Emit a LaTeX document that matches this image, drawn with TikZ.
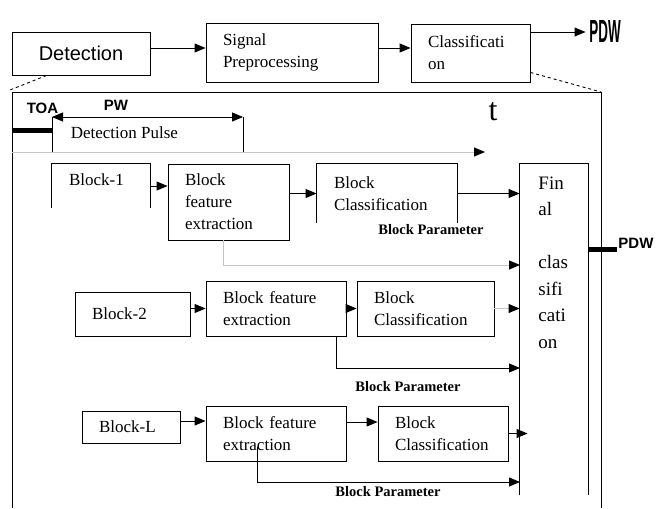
\documentclass[tikz,border=0pt]{standalone}
\usepackage{fontspec}
\setmainfont{Liberation Serif}
\setsansfont{Liberation Sans}
\usepackage{graphicx}
\usetikzlibrary{arrows.meta}

\begin{document}
\begin{tikzpicture}[x=1pt, y=-1pt, line width=0.9pt,
  box/.style={draw, inner xsep=17pt, inner ysep=0pt, align=left, font=\fontsize{17}{22}\selectfont},
  openbox/.style={inner xsep=17pt, inner ysep=0pt, align=left, font=\fontsize{17}{22}\selectfont},
  arr/.style={-{Triangle[length=11pt,width=9pt]}},
  garr/.style={draw=gray!45, -{Triangle[length=11pt,width=9pt,color=black]}},
  param/.style={font=\fontsize{14.5}{14.5}\selectfont\bfseries},
  lbl/.style={font=\fontsize{15}{15}\selectfont\sffamily\bfseries}]
\useasboundingbox (0,0) rectangle (660,508);

% top chain
\node[draw, minimum width=138pt, minimum height=43pt, font=\fontsize{20}{20}\selectfont\sffamily] (det) at (81,53.5) {Detection};
\node[box, text width=138pt, minimum height=59pt] (sig) at (292,52.5) {Signal\\Preprocessing};
\node[box, text width=85pt, minimum height=58pt] (cls) at (470.5,53) {Classificati\\on};
\node (pdwtop) at (605,31) {\scalebox{0.42}[1]{\fontsize{32}{32}\selectfont\sffamily\bfseries PDW}};
\draw[arr] ([yshift=5.5pt]det.east) -- ([yshift=5.5pt]det.east -| sig.west);
\draw[arr] ([yshift=4.5pt]sig.east) -- ([yshift=4.5pt]sig.east -| cls.west);
\draw[arr] ([yshift=21pt]cls.east) -- ([yshift=21pt]cls.east -| pdwtop.west);

% zoomed frame
\coordinate (tl) at (12,92);
\coordinate (tr) at (601,92);
\coordinate (bl) at (12,508);
\coordinate (br) at (601,508);
\draw (bl) -- (tl) -- (tr) -- (br);
\draw[dashed] ([xshift=35pt]det.south west) -- ([xshift=-2pt,yshift=2pt]tl);
\draw[dashed] ([yshift=10pt]cls.south east) -- (tr);

% detection pulse
\coordinate (toa) at (52,117);
\coordinate (pw) at (243,117);
\coordinate (toal) at (12,130);
\draw[{Triangle[length=11pt,width=9pt]}-{Triangle[length=11pt,width=9pt]}] (toa) -- (pw);
\draw (toa) -- ++(0,35);
\draw (pw) -- ++(0,35);
\draw[line width=5pt] (toal) -- (toal -| toa);
\node[lbl, anchor=west] (toatxt) at (23,108) {TOA};
\node[lbl] (pwtxt) at (116,105) {PW};
\node[font=\fontsize{17}{17}\selectfont, anchor=west] (pulse) at (67,133) {Detection Pulse};
\node[font=\fontsize{32}{32}\selectfont] (t) at (493,112) {t};
\coordinate (t0) at (12,152);
\coordinate (t1) at (485,152);
\draw[garr] (t0) -- (t1);

% final classification
\node[minimum width=68pt, minimum height=331pt, inner sep=0pt] (final) at (554,329.5) {};
\draw (final.south west) |- (final.north east) -- (final.south east);
\node[anchor=north west, inner sep=0pt, align=left, font=\fontsize{19}{26.5}\selectfont] (fintxt) at (538,176) {Fin\\al\\[26.5pt]clas\\sifi\\cati\\on};
\coordinate (po) at (617,249);
\draw[line width=5pt] (po -| final.east) -- (po);
\node[lbl, anchor=west, inner sep=1pt] (pdwr) at ([yshift=6pt]po) {PDW};

% block 1
\node[openbox, text width=64pt, minimum height=44pt, text depth=12pt] (blk1) at (101,186) {Block-1};
\draw (blk1.south west) |- (blk1.north east) -- (blk1.south east);
\node[box, text width=87pt, minimum height=76pt] (bfe1) at (228.5,202) {Block\\feature\\extraction};
\node[openbox, text width=106pt, minimum height=59pt] (bc1) at (387,193.5) {Block\\Classification};
\draw (bc1.south west) |- (bc1.north east) -- (bc1.south east);
\node[param] (par1) at (431,230) {Block Parameter};
\coordinate (fin1) at (520,265);
\draw[arr] (blk1.east) -- (blk1.east -| bfe1.west);
\draw[arr] (bfe1.east |- bc1.west) -- (bc1.west);
\draw[arr] (bc1.east) -- (bc1.east -| final.west);
\draw[garr] ([xshift=-5.5pt]bfe1.south) |- (fin1);

% block 2
\node[box, text width=81pt, minimum height=44pt] (blk2) at (132.5,314) {Block-2};
\node[box, text width=106pt, minimum height=55pt] (bfe2) at (276,308.5) {Block feature\\extraction};
\node[box, text width=103pt, minimum height=55pt] (bc2) at (425.5,308.5) {Block\\Classification};
\node[param] (par2) at (408,387) {Block Parameter};
\coordinate (fin2) at (520,368);
\draw[arr] (blk2.east |- bfe2.west) -- (bfe2.west);
\draw[arr] (bfe2.east) -- (bc2.west);
\draw[garr] (bc2.east) -- (bc2.east -| final.west);
\draw[arr] ([xshift=60pt]bfe2.south) |- (fin2);

% block L
\node[box, text width=64pt, minimum height=32pt] (blkL) at (131,427) {Block-L};
\node[box, text width=106pt, minimum height=55pt] (bfe3) at (276,433.5) {Block feature\\extraction};
\node[box, text width=96pt, minimum height=55pt] (bc3) at (443,433.5) {Block\\Classification};
\node[param] (par3) at (388,492) {Block Parameter};
\coordinate (fin3) at (520,482);
\draw[arr] ([yshift=6pt]blkL.east) -- ([yshift=6pt]blkL.east -| bfe3.west);
\draw[arr] ([yshift=11.5pt]bfe3.east) -- ([yshift=11.5pt]bc3.west);
\draw[arr] (bc3.east) -- ([xshift=8pt]bc3.east -| final.west);
\draw[arr] ([shift={(-19pt,-13.5pt)}]bfe3.center) |- (fin3);
\end{tikzpicture}
\end{document}
